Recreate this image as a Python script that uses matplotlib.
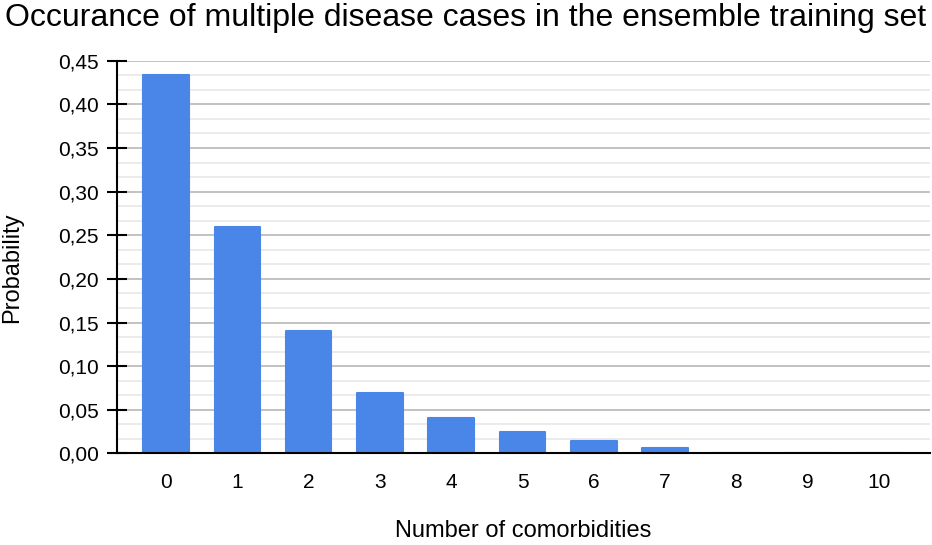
import matplotlib
matplotlib.use("Agg")
import matplotlib.pyplot as plt
from matplotlib.ticker import MultipleLocator, FuncFormatter

plt.rcParams["font.family"] = ["Liberation Sans", "DejaVu Sans"]

# data
comorbidities = list(range(11))
probability = [0.434, 0.260, 0.140, 0.069, 0.041, 0.024, 0.0145, 0.0065, 0.0008, 0.0003, 0.0001]

fig = plt.figure(figsize=(9.32, 5.45), dpi=100)
ax = fig.add_axes([0.1255, 0.168, 0.8725, 0.7206])

ax.bar(comorbidities, probability, width=0.64, color="#4a86e8",
       edgecolor="#4a86e8", linewidth=1.5, joinstyle="round", zorder=3)

ax.set_xlim(-0.69, 10.72)
ax.set_ylim(0, 0.45)
ax.yaxis.set_major_locator(MultipleLocator(0.05))
ax.yaxis.set_minor_locator(MultipleLocator(0.05 / 3))
ax.yaxis.set_major_formatter(FuncFormatter(lambda v, p: f"{v:.2f}".replace(".", ",")))
ax.set_xticks(comorbidities)

ax.grid(axis="y", which="major", color="#bdbdbd", linewidth=1.3, zorder=0)
ax.grid(axis="y", which="minor", color="#e6e6e6", linewidth=1.1, zorder=0)
ax.set_axisbelow(True)

for s in ["top", "right"]:
    ax.spines[s].set_visible(False)
ax.spines["left"].set_linewidth(1.5)
ax.spines["bottom"].set_linewidth(1.5)
ax.spines["bottom"].set_zorder(4)

ax.tick_params(axis="y", which="major", direction="inout", length=14, width=1.5,
               labelsize=15, pad=6)
ax.tick_params(axis="y", which="minor", length=0)
ax.tick_params(axis="x", length=0, labelsize=15, pad=14)

ax.set_xlabel("Number of comorbidities", fontsize=17, labelpad=20)
ax.set_ylabel("Probability", fontsize=17)
ax.yaxis.set_label_coords(-0.115, 0.473)
fig.suptitle("Occurance of multiple disease cases in the ensemble training set",
             fontsize=23, x=0.499, y=0.995, va="top")

fig.savefig("out.png", dpi=100)
